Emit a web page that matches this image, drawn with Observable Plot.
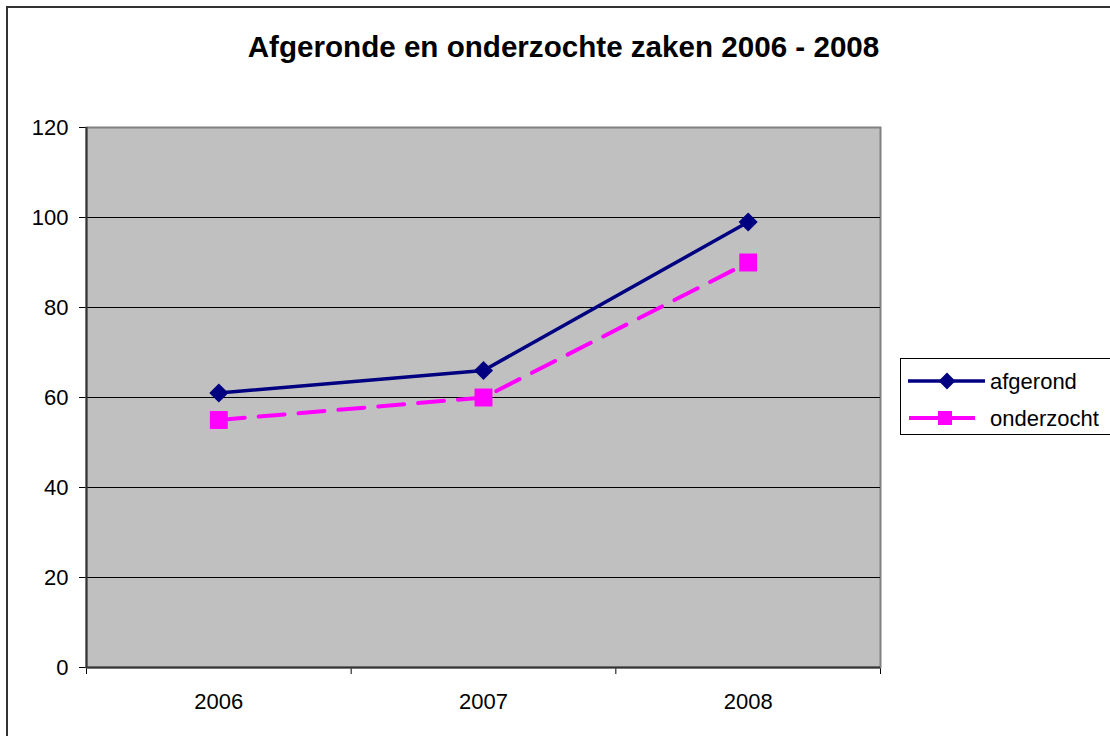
<!DOCTYPE html>
<html>
<head>
<meta charset="utf-8">
<script src="https://cdn.jsdelivr.net/npm/d3@7"></script>
<script src="https://cdn.jsdelivr.net/npm/@observablehq/plot@0.6"></script>
<style>
  html, body { margin: 0; padding: 0; background: #fff; overflow: hidden; }
  #wrap { position: relative; width: 1110px; height: 736px; overflow: hidden; font-family: "Liberation Sans", Arial, sans-serif; }
  #border { position: absolute; left: 6px; top: 6px; width: 1300px; height: 900px; border: 2px solid #333; box-sizing: border-box; }
  #title { position: absolute; left: 0; width: 1127px; top: 29px; text-align: center; font-weight: bold; font-size: 29.6px; line-height: 36px; color: #000; }
  #chart { position: absolute; left: 0; top: 0; }
  #legend { position: absolute; left: 900px; top: 358px; width: 260px; height: 77px; border: 1.5px solid #000; box-sizing: border-box; background: #fff; }
</style>
</head>
<body>
<div id="wrap">
  <div id="border"></div>
  <div id="chart"></div>
  <div id="title">Afgeronde en onderzochte zaken 2006 - 2008</div>
  <div id="legend"></div>
</div>
<script>
const years = ["2006", "2007", "2008"];
const afgerond = [61, 66, 99];
const onderzocht = [55, 60, 90];
const yTicks = [0, 20, 40, 60, 80, 100, 120];
const seriesNames = ["afgerond", "onderzocht"];
const seriesColors = ["#000080", "#FF00FF"];

const dataA = years.map((yr, i) => ({pos: i + 0.5, year: yr, value: afgerond[i]}));
const dataO = years.map((yr, i) => ({pos: i + 0.5, year: yr, value: onderzocht[i]}));
const boundaries = d3.range(years.length + 1);

const chart = Plot.plot({
  width: 1110,
  height: 736,
  marginLeft: 86,
  marginRight: 230,
  marginTop: 127,
  marginBottom: 69,
  style: {fontFamily: "'Liberation Sans', Arial, sans-serif", fontSize: "22px", background: "transparent", color: "#000"},
  x: {domain: [0, years.length], ticks: boundaries, tickFormat: () => "", tickSize: 7, label: null},
  y: {domain: [0, 120], ticks: yTicks, tickSize: 7, tickPadding: 11, label: null},
  marks: [
    Plot.frame({fill: "#C0C0C0", stroke: "#808080", strokeWidth: 2}),
    Plot.ruleY(yTicks.filter(v => v > 0 && v < 120), {stroke: "#000", strokeWidth: 1}),
    Plot.ruleY([0], {stroke: "#333", strokeWidth: 2}),
    Plot.ruleX([0], {stroke: "#333", strokeWidth: 2}),
    Plot.text(dataA, {x: "pos", y: () => 0, text: "year", dy: 34, fontSize: 22, fill: "#000"}),
    Plot.line(dataA, {x: "pos", y: "value", stroke: seriesColors[0], strokeWidth: 3.5}),
    Plot.line(dataO, {x: "pos", y: "value", stroke: seriesColors[1], strokeWidth: 4, strokeDasharray: "26,14"}),
    Plot.dot(dataA, {x: "pos", y: "value", symbol: "diamond2", r: 8.6, fill: seriesColors[0], stroke: "none"}),
    Plot.dot(dataO, {x: "pos", y: "value", symbol: "square", r: 10.1, fill: seriesColors[1], stroke: "none"})
  ]
});
document.getElementById("chart").appendChild(chart);

// legend
const leg = d3.select("#legend").append("svg")
  .attr("width", 260).attr("height", 77)
  .style("position", "absolute").style("left", "-1.5px").style("top", "-1.5px");
const rows = [
  {name: seriesNames[0], color: seriesColors[0], y: 23, x1: 8, x2: 85, mx: 47, sym: "diamond"},
  {name: seriesNames[1], color: seriesColors[1], y: 60, x1: 9, x2: 75, mx: 45, sym: "square"}
];
rows.forEach(r => {
  leg.append("line").attr("x1", r.x1).attr("x2", r.x2).attr("y1", r.y).attr("y2", r.y)
    .attr("stroke", r.color).attr("stroke-width", r.sym === "diamond" ? 3.5 : 4);
  if (r.sym === "diamond") {
    leg.append("path").attr("d", d3.symbol(d3.symbolDiamond2, 180)()).attr("transform", `translate(${r.mx},${r.y})`).attr("fill", r.color);
  } else {
    leg.append("rect").attr("x", r.mx - 7).attr("y", r.y - 7).attr("width", 14).attr("height", 14).attr("fill", r.color);
  }
  leg.append("text").attr("x", 90).attr("y", r.y).attr("dy", "0.35em")
    .attr("font-family", "'Liberation Sans', Arial, sans-serif").attr("font-size", 22).attr("fill", "#000").text(r.name);
});
</script>
</body>
</html>
